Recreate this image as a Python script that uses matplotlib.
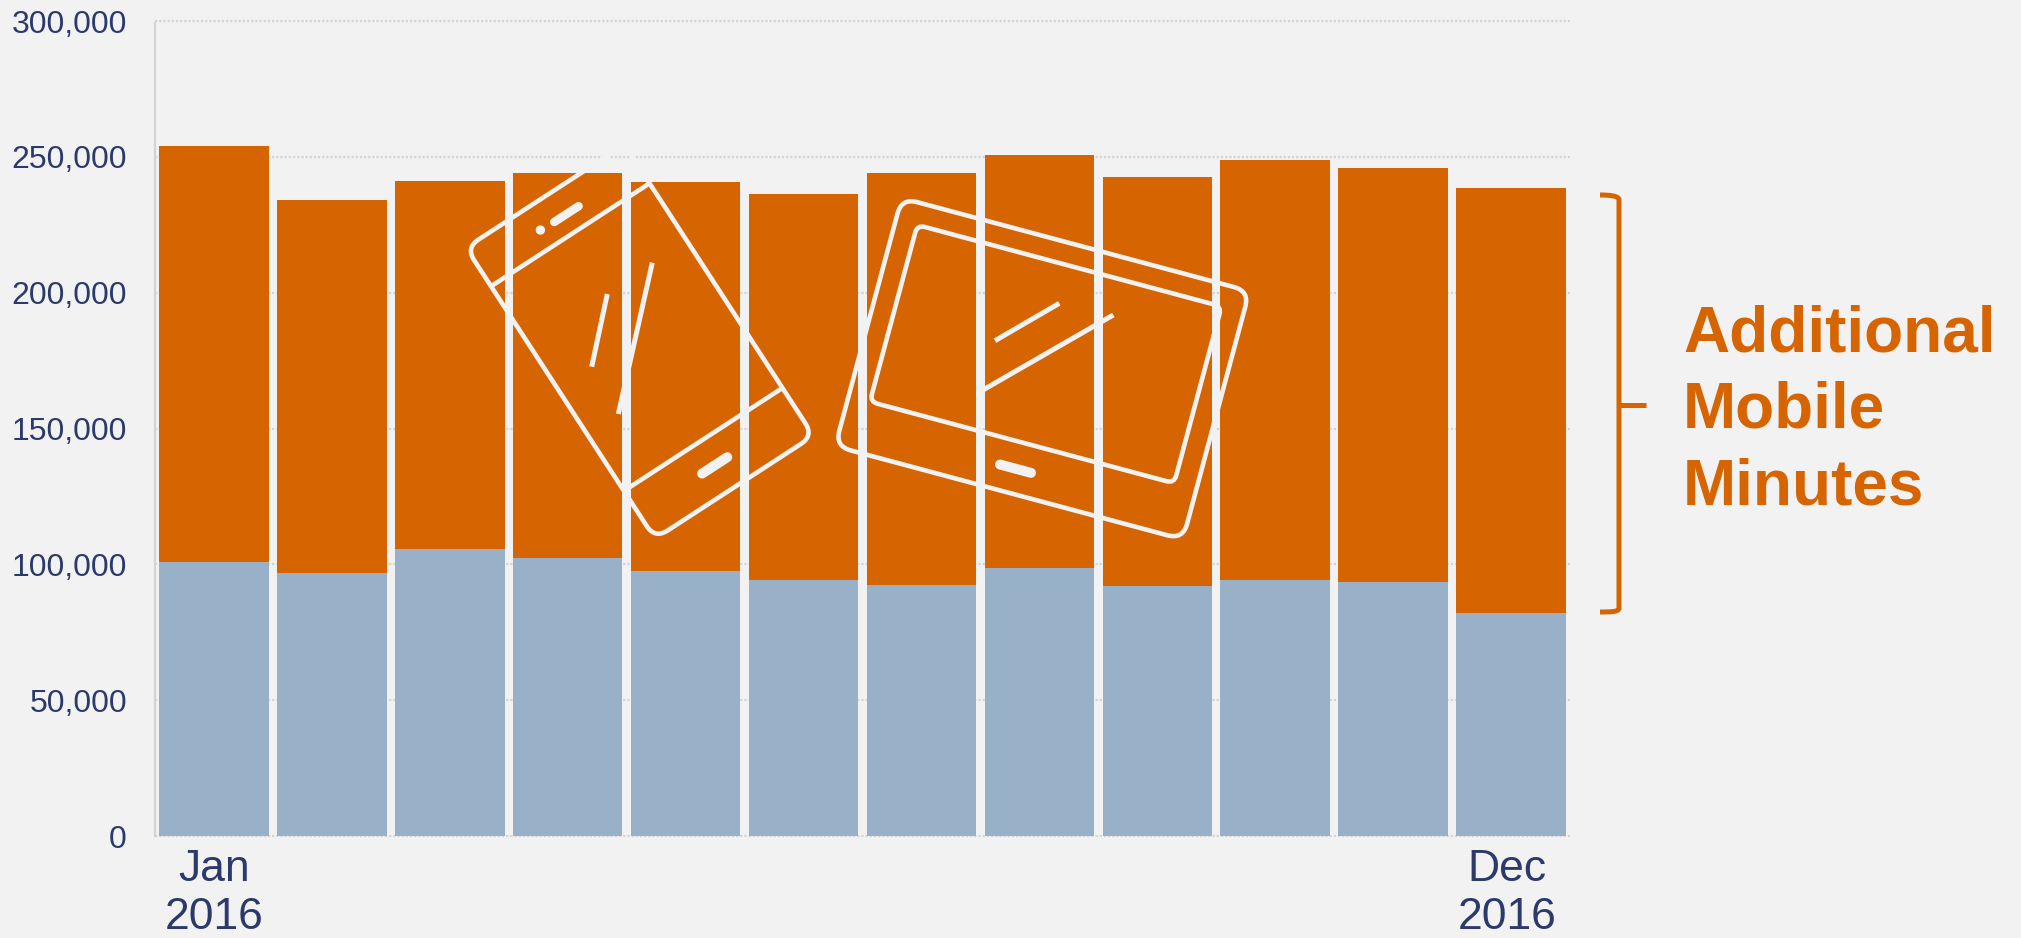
import numpy as np
import matplotlib
matplotlib.use("Agg")
import matplotlib.pyplot as plt
from matplotlib.lines import Line2D
from matplotlib.patches import FancyBboxPatch, PathPatch, Circle
from matplotlib.path import Path
from matplotlib.transforms import Affine2D

# ---- data ----
months = ["Jan\n2016", "", "", "", "", "", "", "", "", "", "", "Dec\n2016"]
base_minutes = [101000, 96700, 105700, 102400, 97600, 94300,
                92400, 98600, 91900, 94300, 93400, 82000]
total_minutes = [254000, 234100, 241200, 244000, 240800, 236500,
                 244000, 250700, 242600, 248800, 246000, 238400]
y_ticks = [0, 50000, 100000, 150000, 200000, 250000, 300000]
callout_lines = ["Additional", "Mobile", "Minutes"]

# ---- style ----
BG = "#F2F2F2"
ORANGE = "#D66400"
BLUE = "#98B1C9"
NAVY = "#2B3A6B"
GRID = "#D4D4D4"
W, H, DPI = 2021, 938, 100
PX = 72 / DPI

plt.rcParams["font.family"] = ["Liberation Sans", "DejaVu Sans"]

fig = plt.figure(figsize=(W / DPI, H / DPI), dpi=DPI, facecolor=BG)
ax = fig.add_axes([155 / W, (H - 836) / H, (1570 - 155) / W, (836 - 21) / H], facecolor=BG)

x = np.arange(len(total_minutes))
base = np.array(base_minutes)
extra = np.array(total_minutes) - base
ax.bar(x, base, width=0.928, color=BLUE, linewidth=0, zorder=3)
ax.bar(x, extra, width=0.928, bottom=base, color=ORANGE, linewidth=0, zorder=3)

ax.set_xlim(-0.5, 11.5)
ax.set_ylim(0, 300000)
ax.set_yticks(y_ticks)
ax.set_yticklabels([f"{v:,}" for v in y_ticks], fontsize=23, color=NAVY)
ax.tick_params(axis="y", length=0, pad=28 * PX)
ax.set_xticks([0, 10.966])
ax.set_xticklabels([months[0], months[-1]], fontsize=32, color=NAVY, linespacing=1.22)
ax.tick_params(axis="x", length=0, pad=13 * PX)

dots = (0, (1, 0.9))
ax.grid(axis="y", color=GRID, linewidth=2.2 * PX, linestyle=dots, zorder=1)
for line in ax.get_ygridlines():
    line.set_clip_on(False)
for name in ("top", "right", "bottom"):
    ax.spines[name].set_visible(False)
ax.spines["left"].set_color(GRID)
ax.spines["left"].set_linewidth(2.2 * PX)
ax.spines["left"].set_linestyle(dots)

# pixel coordinates of the picture, y pointing down
to_px = Affine2D().scale(1, -1).translate(0, H)
STROKE = 4.6 * PX


def rounded(trans, x0, y0, w, h, r):
    fig.add_artist(FancyBboxPatch(
        (x0 + r, y0 + r), w - 2 * r, h - 2 * r,
        boxstyle=f"round,pad={r},rounding_size={r}",
        fc="none", ec=BG, lw=STROKE, transform=trans, zorder=5))


def stroke(trans, xs, ys, lw=STROKE, cap="butt"):
    fig.add_artist(Line2D(xs, ys, color=BG, lw=lw, solid_capstyle=cap,
                          transform=trans, zorder=5))


# phone icon
phone = Affine2D().rotate_deg(-33).translate(466, 247.7) + to_px
rounded(phone, 0, 0, 189, 347, 15)
stroke(phone, [0, 189], [46, 46])
stroke(phone, [0, 189], [290, 290])
stroke(phone, [88, 117], [26.5, 26.5], lw=8.5 * PX, cap="round")
stroke(phone, [75, 105], [318, 318], lw=10 * PX, cap="round")
fig.add_artist(Circle((72, 25.7), 4.7, fc=BG, ec="none", transform=phone, zorder=5))
stroke(to_px, [591.7, 607.3], [366.7, 294], lw=5 * PX)
stroke(to_px, [618.3, 652.3], [414, 262.7], lw=5 * PX)

# tablet icon
tablet = Affine2D().rotate_deg(15).translate(901.7, 198) + to_px
rounded(tablet, 0, 0, 360, 257, 16)
rounded(tablet, 22, 22, 315, 183, 8)
stroke(tablet, [164, 196], [232, 232], lw=10 * PX, cap="round")
stroke(to_px, [995, 1059.3], [340.7, 303.3], lw=5 * PX)
stroke(to_px, [980, 1113.3], [391.7, 315], lw=5 * PX)

# bracket
bracket = Path(
    [(1600, 195), (1611, 195), (1619, 196), (1619, 200), (1619, 608),
     (1619, 612), (1611, 612), (1600, 612)],
    [Path.MOVETO, Path.CURVE4, Path.CURVE4, Path.CURVE4, Path.LINETO,
     Path.CURVE4, Path.CURVE4, Path.CURVE4])
fig.add_artist(PathPatch(bracket, fc="none", ec=ORANGE, lw=5 * PX,
                         transform=to_px, zorder=5))
fig.add_artist(Line2D([1619, 1645.5], [405, 405], color=ORANGE, lw=5 * PX,
                      solid_capstyle="butt", transform=to_px, zorder=5))

for label, baseline in zip(callout_lines, [351, 428, 504.5]):
    fig.text(1683 / W, (H - baseline) / H, label, fontsize=46, fontweight="bold",
             color=ORANGE, ha="left", va="baseline")

fig.savefig("out.png", dpi=DPI, facecolor=BG)
